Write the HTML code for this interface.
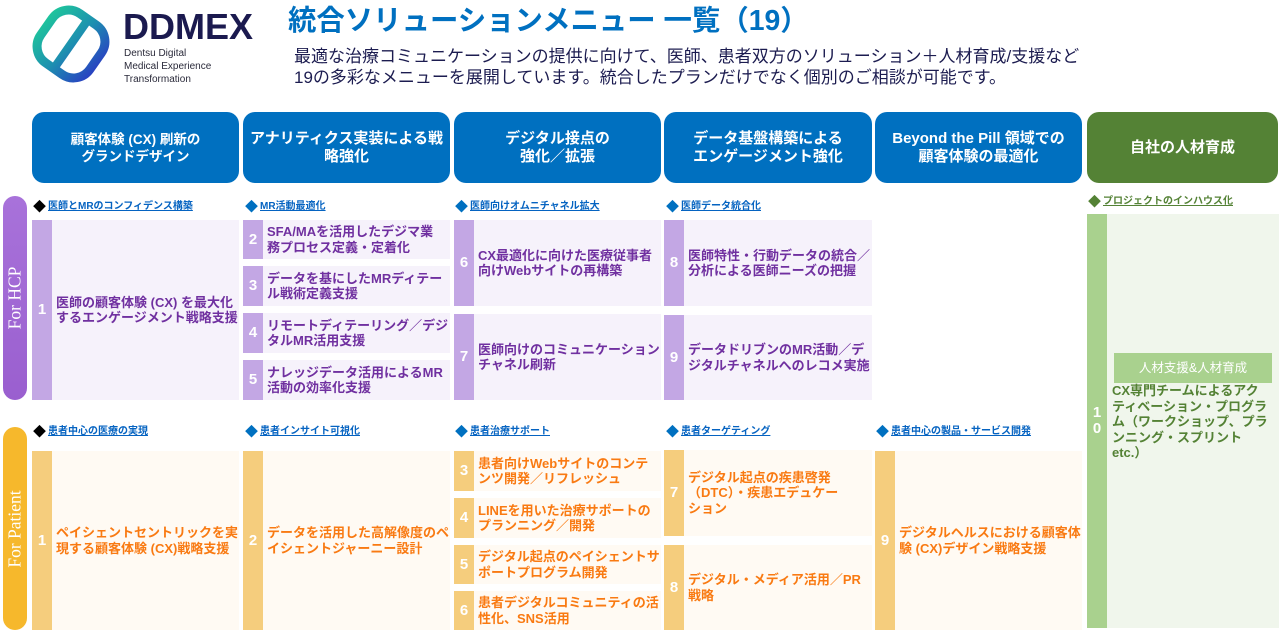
<!DOCTYPE html>
<html><head><meta charset="utf-8">
<style>
*{margin:0;padding:0;box-sizing:border-box;}
html,body{width:1280px;height:635px;background:#fff;overflow:hidden;}
body{position:relative;font-family:"Liberation Sans","Noto Sans CJK JP",sans-serif;}
.abs{position:absolute;}
.hd{position:absolute;top:112px;height:71px;border-radius:12px;background:#0070c0;color:#fff;font-weight:bold;font-size:15px;line-height:18px;display:flex;align-items:center;justify-content:center;text-align:center;white-space:nowrap;}
.pill{position:absolute;left:3px;width:24px;border-radius:12px;}
.pill span{position:absolute;left:50%;top:50%;transform:translate(-50%,-50%) rotate(-90deg);color:#fff;font-family:"Liberation Serif",serif;font-size:17.5px;white-space:nowrap;}
.lb{position:absolute;height:16px;line-height:16px;white-space:nowrap;font-size:10px;font-weight:bold;}
.lb .d{font-size:13px;display:inline-block;width:15px;vertical-align:top;}
.lb .u{text-decoration:underline;color:#0563c1;vertical-align:top;}
.card{position:absolute;display:flex;}
.card .n{width:20px;flex:none;display:flex;align-items:center;justify-content:center;color:#fff;font-weight:bold;font-size:15px;line-height:16px;text-align:center;}
.card .t{flex:1;display:flex;align-items:center;padding-left:4px;font-weight:bold;font-size:13px;line-height:15.5px;white-space:nowrap;}
.p{background:#f6f2fb;}
.p .n{background:#c3a7e4;}
.p .t{color:#7030a0;}
.o{background:#fffaf3;}
.o .n{background:#f5cd7d;}
.o .t{color:#f97a12;}
</style></head><body>

<!-- Logo -->
<svg class="abs" style="left:28px;top:2px" width="88" height="86" viewBox="0 0 88 86">
<defs>
<linearGradient id="g" gradientUnits="userSpaceOnUse" x1="4" y1="36" x2="84" y2="50">
<stop offset="0" stop-color="#1ec99a"/><stop offset="0.5" stop-color="#1d8fb0"/><stop offset="1" stop-color="#2b35c4"/>
</linearGradient>
</defs>
<g transform="rotate(35 43 42)">
<rect x="13" y="12" width="60" height="60" rx="20" fill="none" stroke="url(#g)" stroke-width="9"/>
<line x1="43" y1="13" x2="43" y2="71" stroke="url(#g)" stroke-width="8.5"/>
</g>
</svg>
<div class="abs" style="left:123px;top:8px;font-size:36px;font-weight:bold;color:#1b1a4f;line-height:38px;letter-spacing:0px;">DDMEX</div>
<div class="abs" style="left:124px;top:47px;font-size:10px;line-height:13px;color:#2a2a3a;">Dentsu Digital<br>Medical Experience<br>Transformation</div>

<!-- Title -->
<div class="abs" style="left:288px;top:6px;font-size:28.4px;line-height:31px;font-weight:bold;color:#0070c0;white-space:nowrap;">統合ソリューションメニュー 一覧（19）</div>
<div class="abs" style="left:294px;top:46px;font-size:17px;line-height:21px;color:#1c1c50;white-space:nowrap;">最適な治療コミュニケーションの提供に向けて、医師、患者双方のソリューション＋人材育成/支援など<br>19の多彩なメニューを展開しています。統合したプランだけでなく個別のご相談が可能です。</div>

<!-- Headers -->
<div class="hd" style="left:32px;width:207px;font-size:13.5px;line-height:17px;">顧客体験 (CX) 刷新の<br>グランドデザイン</div>
<div class="hd" style="left:243px;width:207px;">アナリティクス実装による戦<br>略強化</div>
<div class="hd" style="left:454px;width:207px;">デジタル接点の<br>強化／拡張</div>
<div class="hd" style="left:664px;width:208px;">データ基盤構築による<br>エンゲージメント強化</div>
<div class="hd" style="left:875px;width:207px;">Beyond the Pill 領域での<br>顧客体験の最適化</div>
<div class="hd" style="left:1087px;width:191px;background:#548235;">自社の人材育成</div>

<!-- Pills -->
<div class="pill" style="top:196px;height:204px;background:linear-gradient(#a872da,#9a5fcf);"><span>For HCP</span></div>
<div class="pill" style="top:427px;height:203px;background:#f6b82c;"><span>For Patient</span></div>

<!-- HCP labels -->
<div class="lb" style="left:33px;top:199px;"><span class="d" style="color:#000;">◆</span><span class="u">医師とMRのコンフィデンス構築</span></div>
<div class="lb" style="left:245px;top:199px;"><span class="d" style="color:#0070c0;">◆</span><span class="u">MR活動最適化</span></div>
<div class="lb" style="left:455px;top:199px;"><span class="d" style="color:#0070c0;">◆</span><span class="u">医師向けオムニチャネル拡大</span></div>
<div class="lb" style="left:666px;top:199px;"><span class="d" style="color:#0070c0;">◆</span><span class="u">医師データ統合化</span></div>
<div class="lb" style="left:1088px;top:194px;"><span class="d" style="color:#548235;">◆</span><span class="u" style="color:#548235;">プロジェクトのインハウス化</span></div>

<!-- Patient labels -->
<div class="lb" style="left:33px;top:424px;"><span class="d" style="color:#000;">◆</span><span class="u">患者中心の医療の実現</span></div>
<div class="lb" style="left:245px;top:424px;"><span class="d" style="color:#0070c0;">◆</span><span class="u">患者インサイト可視化</span></div>
<div class="lb" style="left:455px;top:424px;"><span class="d" style="color:#0070c0;">◆</span><span class="u">患者治療サポート</span></div>
<div class="lb" style="left:666px;top:424px;"><span class="d" style="color:#0070c0;">◆</span><span class="u">患者ターゲティング</span></div>
<div class="lb" style="left:876px;top:424px;"><span class="d" style="color:#0070c0;">◆</span><span class="u">患者中心の製品・サービス開発</span></div>

<!-- HCP cards -->
<div class="card p" style="left:32px;top:220px;width:207px;height:180px;"><div class="n">1</div><div class="t">医師の顧客体験 (CX) を最大化<br>するエンゲージメント戦略支援</div></div>
<div class="card p" style="left:243px;top:220px;width:207px;height:39px;"><div class="n">2</div><div class="t">SFA/MAを活用したデジマ業<br>務プロセス定義・定着化</div></div>
<div class="card p" style="left:243px;top:266px;width:207px;height:40px;"><div class="n">3</div><div class="t">データを基にしたMRディテー<br>ル戦術定義支援</div></div>
<div class="card p" style="left:243px;top:313px;width:207px;height:40px;"><div class="n">4</div><div class="t">リモートディテーリング／デジ<br>タルMR活用支援</div></div>
<div class="card p" style="left:243px;top:360px;width:207px;height:40px;"><div class="n">5</div><div class="t">ナレッジデータ活用によるMR<br>活動の効率化支援</div></div>
<div class="card p" style="left:454px;top:220px;width:207px;height:86px;"><div class="n">6</div><div class="t">CX最適化に向けた医療従事者<br>向けWebサイトの再構築</div></div>
<div class="card p" style="left:454px;top:314px;width:207px;height:86px;"><div class="n">7</div><div class="t">医師向けのコミュニケーション<br>チャネル刷新</div></div>
<div class="card p" style="left:664px;top:220px;width:208px;height:86px;"><div class="n">8</div><div class="t">医師特性・行動データの統合／<br>分析による医師ニーズの把握</div></div>
<div class="card p" style="left:664px;top:315px;width:208px;height:85px;"><div class="n">9</div><div class="t">データドリブンのMR活動／デ<br>ジタルチャネルへのレコメ実施</div></div>

<!-- Patient cards -->
<div class="card o" style="left:32px;top:451px;width:207px;height:179px;"><div class="n">1</div><div class="t">ペイシェントセントリックを実<br>現する顧客体験 (CX)戦略支援</div></div>
<div class="card o" style="left:243px;top:451px;width:207px;height:179px;"><div class="n">2</div><div class="t">データを活用した高解像度のペ<br>イシェントジャーニー設計</div></div>
<div class="card o" style="left:454px;top:451px;width:207px;height:40px;"><div class="n">3</div><div class="t">患者向けWebサイトのコンテ<br>ンツ開発／リフレッシュ</div></div>
<div class="card o" style="left:454px;top:498px;width:207px;height:40px;"><div class="n">4</div><div class="t">LINEを用いた治療サポートの<br>プランニング／開発</div></div>
<div class="card o" style="left:454px;top:545px;width:207px;height:39px;"><div class="n">5</div><div class="t">デジタル起点のペイシェントサ<br>ポートプログラム開発</div></div>
<div class="card o" style="left:454px;top:591px;width:207px;height:39px;"><div class="n">6</div><div class="t">患者デジタルコミュニティの活<br>性化、SNS活用</div></div>
<div class="card o" style="left:664px;top:450px;width:208px;height:86px;"><div class="n">7</div><div class="t">デジタル起点の疾患啓発<br>（DTC）・疾患エデュケー<br>ション</div></div>
<div class="card o" style="left:664px;top:545px;width:208px;height:85px;"><div class="n">8</div><div class="t">デジタル・メディア活用／PR<br>戦略</div></div>
<div class="card o" style="left:875px;top:451px;width:207px;height:179px;"><div class="n">9</div><div class="t">デジタルヘルスにおける顧客体<br>験 (CX)デザイン戦略支援</div></div>

<!-- Column 6 card -->
<div class="abs" style="left:1087px;top:214px;width:192px;height:414px;background:#f0f6ec;"></div>
<div class="abs" style="left:1087px;top:214px;width:20px;height:414px;background:#a9d18e;display:flex;align-items:center;justify-content:center;color:#fff;font-weight:bold;font-size:15px;line-height:16px;text-align:center;">1<br>0</div>
<div class="abs" style="left:1114px;top:353px;width:158px;height:30px;background:#a9d18e;color:#fff;font-size:12.5px;line-height:30px;text-align:center;white-space:nowrap;">人材支援&amp;人材育成</div>
<div class="abs" style="left:1112px;top:383px;font-size:13px;line-height:15.5px;font-weight:bold;color:#548235;white-space:nowrap;">CX専門チームによるアク<br>ティベーション・プログラ<br>ム（ワークショップ、プラ<br>ンニング・スプリント<br>etc.）</div>

</body></html>
